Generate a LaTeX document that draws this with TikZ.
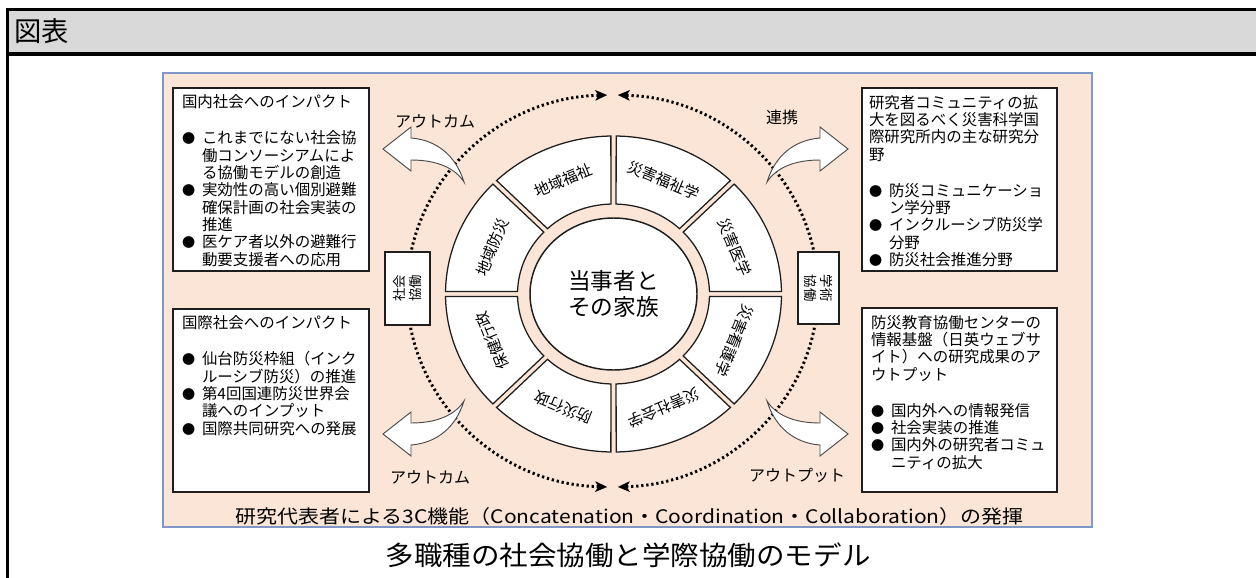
\documentclass[tikz,border=0pt]{standalone}
\usepackage{fontspec}
\setmainfont{Noto Sans CJK JP}
\usetikzlibrary{arrows.meta,shapes.geometric}
\definecolor{panel}{RGB}{251,229,214}
\definecolor{panelborder}{RGB}{128,150,198}
\definecolor{headgray}{RGB}{217,217,217}
\definecolor{ink}{RGB}{30,30,30}
\newcommand\itm[1]{\makebox[15pt][l]{\scalebox{0.85}{●}}#1}
\newcommand\cnt[1]{\hspace*{15pt}#1}
\newcommand\blockarrowpath{%
  \draw[blockarrow] (464,-401) .. controls (455,-415) and (437,-423) .. (411,-423)
    -- (411,-412) -- (383,-434) -- (411,-456) -- (411,-445)
    .. controls (437,-443) and (456,-427) .. (464,-401) -- cycle;}
\tikzset{
  every node/.style={inner sep=0pt, outer sep=0pt},
  whitebox/.style={draw=ink, fill=white, line width=1.1pt, rectangle, anchor=north west},
  boxtext/.style={anchor=north west, align=left, font=\fontsize{11.6pt}{13pt}\selectfont},
  seg/.style={draw=ink, fill=white, line width=0.95pt},
  segtext/.style={font=\fontsize{11.4pt}{13pt}\selectfont},
  dotline/.style={line width=2.2pt, dash pattern=on 1.7pt off 2.1pt, line cap=butt, black},
  dottip/.style={{Stealth[length=9pt,width=8pt,inset=2.5pt,line width=0.3pt]}-{Stealth[length=9pt,width=8pt,inset=2.5pt,line width=0.3pt]}},
  blockarrow/.style={draw=ink!80, fill=white, line width=0.7pt, line join=miter},
  lbl/.style={font=\fontsize{12pt}{14pt}\selectfont},
  sidetext/.style={font=\fontsize{10pt}{11.5pt}\selectfont, align=center},
}
\begin{document}
\begin{tikzpicture}[x=0.75pt,y=0.75pt]
\useasboundingbox (0,0) rectangle (1256,-578);
% header frame
\fill[headgray] (8,-10) rectangle (1256,-54);
\draw[line width=2.4pt] (7.7,-578) -- (7.7,-9.6) -- (1256,-9.6);
\draw[line width=2.5pt] (7.7,-54) -- (1256,-54);
\node[anchor=west, font=\fontsize{20.5pt}{22pt}\selectfont] (hdr) at (14,-31.5) {図表};
% panel
\node[draw=panelborder, fill=panel, line width=1.1pt, minimum width=696.75pt, minimum height=340.5pt, anchor=north west] (panel) at (163,-73) {};
% dotted cycle
\coordinate (C) at (612.5,-291);
\draw[dotline, dottip] ([shift={(91.5:205.5 and 196)}]C) arc[start angle=91.5, end angle=268.5, x radius=205.5, y radius=196];
\draw[dotline, dottip] ([shift={(88.5:205.5 and 196)}]C) arc[start angle=88.5, end angle=-88.5, x radius=205.5, y radius=196];
% segments
\begin{scope}[shift={(613.5,-294)}]
\foreach \a/\t [count=\i] in {90/地域福祉, 45/災害福祉学, 0/災害医学, -45/災害看護学, -90/災害社会学, -135/防災行政, 180/保健行政, 135/地域防災}{
  \pgfmathsetmacro\ao{\a+0.9}
  \pgfmathsetmacro\bo{\a+45-0.9}
  \pgfmathsetmacro\ai{\a+1.55}
  \pgfmathsetmacro\bi{\a+45-1.55}
  \draw[seg] (\ao:168 and 158) arc[start angle=\ao, end angle=\bo, x radius=168, y radius=158]
     -- (\bi:96 and 90) arc[start angle=\bi, end angle=\ai, x radius=96, y radius=90] -- cycle;
  \node[segtext, rotate=\a-67.5] (seg\i) at (\a+22.5:131 and 123) {\t};
}
\node[ellipse, draw=ink, fill=white, line width=1.1pt, minimum width=125.25pt, minimum height=114pt, align=center, font=\fontsize{17pt}{20pt}\selectfont] (core) at (0,0) {当事者と\\その家族};
\end{scope}
% side boxes
\node[draw=ink, fill=white, line width=0.9pt, minimum width=33.75pt, minimum height=54.75pt] (soc) at (407.5,-288.5) {};
\node[sidetext, rotate=90] (soct) at (soc.center) {社会\\協働};
\node[draw=ink, fill=white, line width=0.9pt, minimum width=30.75pt, minimum height=54pt] (aca) at (818.5,-288) {};
\node[sidetext, rotate=-90] (acat) at (aca.center) {学術\\協働};
% block arrows
\begin{scope}\blockarrowpath\end{scope}
\begin{scope}[shift={(0,-583)}, yscale=-1]\blockarrowpath\end{scope}
\begin{scope}[shift={(1231,0)}, xscale=-1]\blockarrowpath\end{scope}
\begin{scope}[shift={(1231,-583)}, xscale=-1, yscale=-1]\blockarrowpath\end{scope}
% labels
\node[lbl] (l1) at (435,-121) {アウトカム};
\node[lbl] (l2) at (430,-477) {アウトカム};
\node[lbl] (l3) at (782,-117) {連携};
\node[lbl] (l4) at (797,-475) {アウトプット};
% boxes
\node[whitebox, minimum width=147pt, minimum height=137.25pt] (lb1) at (173,-88) {};
\node[boxtext] (lb1t) at ([shift={(9,-7)}]lb1.north west) {国内社会へのインパクト\\[14pt]
\itm{これまでにない社会協}\\ \cnt{働コンソーシアムによ}\\ \cnt{る協働モデルの創造}\\
\itm{実効性の高い個別避難}\\ \cnt{確保計画の社会実装の}\\ \cnt{推進}\\
\itm{医ケア者以外の避難行}\\ \cnt{動要支援者への応用}};
\node[whitebox, minimum width=147pt, minimum height=137.25pt] (lb2) at (173,-309) {};
\node[boxtext] (lb2t) at ([shift={(9,-7)}]lb2.north west) {国際社会へのインパクト\\[14pt]
\itm{仙台防災枠組（インク}\\ \cnt{ルーシブ防災）の推進}\\
\itm{第4回国連防災世界会}\\ \cnt{議へのインプット}\\
\itm{国際共同研究への発展}};
\node[whitebox, minimum width=146.25pt, minimum height=137.25pt] (rb1) at (862,-88) {};
\node[boxtext] (rb1t) at ([shift={(7,-7)}]rb1.north west) {研究者コミュニティの拡\\大を図るべく災害科学国\\際研究所内の主な研究分\\野\\[14pt]
\itm{防災コミュニケーショ}\\ \cnt{ン学分野}\\
\itm{インクルーシブ防災学}\\ \cnt{分野}\\
\itm{防災社会推進分野}};
\node[whitebox, minimum width=146.25pt, minimum height=138pt] (rb2) at (862,-308) {};
\node[boxtext] (rb2t) at ([shift={(9,-7)}]rb2.north west) {防災教育協働センターの\\情報基盤（日英ウェブサ\\イト）への研究成果のア\\ウトプット\\[14pt]
\itm{国内外への情報発信}\\
\itm{社会実装の推進}\\
\itm{国内外の研究者コミュ}\\ \cnt{ニティの拡大}};
% bottom line
\node[font=\fontsize{14pt}{16pt}\selectfont] (three) at (629.5,-516) {\scalebox{1.125}[1]{研究代表者による3C機能（Concatenation・Coordination・Collaboration）の発揮}};
% caption
\node[font=\fontsize{20pt}{22pt}\selectfont] (cap) at (628,-555) {\scalebox{1.07}[1]{多職種の社会協働と学際協働のモデル}};
\end{tikzpicture}
\end{document}
